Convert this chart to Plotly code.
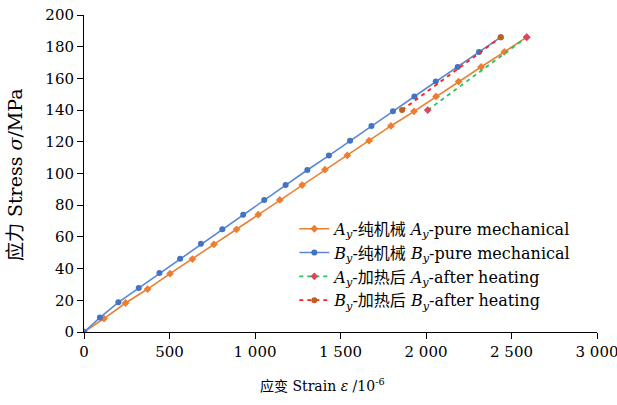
import plotly.graph_objects as go

# Data
a_strain = [0, 117, 243, 372, 503, 634, 760, 892, 1019, 1145, 1276, 1409, 1540, 1667, 1795, 1930, 2059, 2191, 2322, 2458, 2589]
a_stress = [0, 8.5, 18.3, 27.1, 36.8, 46.0, 55.3, 64.8, 74.0, 83.3, 92.7, 102.4, 111.4, 120.7, 130.0, 139.2, 148.6, 158.0, 167.2, 176.7, 186.0]
b_strain = [0, 93, 201, 320, 441, 562, 684, 809, 931, 1054, 1179, 1306, 1432, 1556, 1681, 1807, 1932, 2057, 2185, 2310, 2437]
b_stress = [0, 9.1, 18.7, 27.7, 37.2, 46.2, 55.6, 64.8, 74.0, 83.3, 92.7, 102.2, 111.3, 120.7, 130.0, 139.2, 148.6, 158.0, 167.2, 176.7, 186.0]
ah_strain = [2010, 2589]
ah_stress = [140, 186]
bh_strain = [1860, 2437]
bh_stress = [140, 186]

x_ticks = [0, 500, 1000, 1500, 2000, 2500, 3000]
x_ticktext = ["0", "500", "1 000", "1 500", "2 000", "2 500", "3 000"]
y_ticks = [0, 20, 40, 60, 80, 100, 120, 140, 160, 180, 200]

FONT = "DejaVu Serif, Liberation Serif, Noto Sans CJK SC, serif"

fig = go.Figure()
fig.add_trace(go.Scatter(
    x=a_strain, y=a_stress, mode="lines+markers",
    name="<i>A<sub>y</sub></i>-纯机械 <i>A<sub>y</sub></i>-pure mechanical",
    line=dict(color="#ED7D31", width=1.6),
    marker=dict(symbol="diamond", size=6, color="#ED7D31"),
))
fig.add_trace(go.Scatter(
    x=b_strain, y=b_stress, mode="lines+markers",
    name="<i>B<sub>y</sub></i>-纯机械 <i>B<sub>y</sub></i>-pure mechanical",
    line=dict(color="#5B87D6", width=1.6),
    marker=dict(symbol="circle", size=6, color="#4472C4"),
))
fig.add_trace(go.Scatter(
    x=ah_strain, y=ah_stress, mode="lines+markers",
    name="<i>A<sub>y</sub></i>-加热后 <i>A<sub>y</sub></i>-after heating",
    line=dict(color="#22C35E", width=1.8, dash="4px,4px"),
    marker=dict(symbol="diamond", size=6, color="#E0445E"),
))
fig.add_trace(go.Scatter(
    x=bh_strain, y=bh_stress, mode="lines+markers",
    name="<i>B<sub>y</sub></i>-加热后 <i>B<sub>y</sub></i>-after heating",
    line=dict(color="#FF2020", width=1.8, dash="4px,4px"),
    marker=dict(symbol="circle", size=6, color="#C0601A"),
))

axis_common = dict(
    showgrid=False, zeroline=False, showline=True, linecolor="black", linewidth=1,
    ticks="outside", ticklen=6, tickcolor="black", tickwidth=1,
    tickfont=dict(family=FONT, size=15, color="black"),
    automargin=False,
)

fig.update_layout(
    width=617, height=405,
    margin=dict(l=84, r=20, t=15, b=73),
    plot_bgcolor="white", paper_bgcolor="white",
    font=dict(family=FONT, size=16, color="black"),
    xaxis=dict(range=[0, 3000], tickvals=x_ticks, ticktext=x_ticktext,
               ticklabeloverflow="allow", **axis_common),
    yaxis=dict(range=[0, 200], tickvals=y_ticks, ticklabeloverflow="allow", **axis_common),
    legend=dict(x=0.41, y=0.379, xanchor="left", yanchor="top",
                bgcolor="rgba(0,0,0,0)", font=dict(family=FONT, size=16),
                tracegroupgap=0, itemwidth=30),
    showlegend=True,
    annotations=[
        dict(text="应变 Strain <i>ε</i> /10<sup>-6</sup>", xref="paper", yref="paper",
             x=0.464, y=-0.167, xanchor="center", yanchor="middle", showarrow=False,
             font=dict(family=FONT, size=14, color="black")),
        dict(text="应力 Stress <i>σ</i>/MPa", xref="paper", yref="paper",
             x=-0.1345, y=0.495, xanchor="center", yanchor="middle", showarrow=False,
             textangle=-90, font=dict(family=FONT, size=19, color="black")),
    ],
)

fig.write_html("out.html", config={"displayModeBar": False},
               post_script="document.body.style.margin='0';document.body.style.overflow='hidden';")
